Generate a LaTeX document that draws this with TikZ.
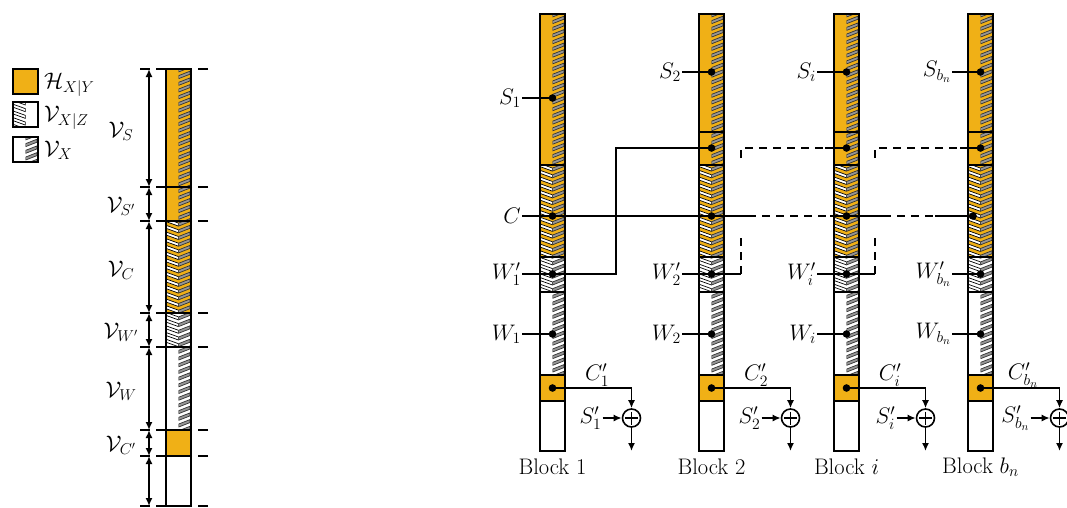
\RequirePackage{fix-cm}
\documentclass[tikz,border=0pt]{standalone}
\usetikzlibrary{arrows.meta}
\definecolor{orng}{RGB}{240,176,22}
\definecolor{stripegray}{RGB}{150,150,150}
\definecolor{stripeedge}{RGB}{50,50,50}
\tikzset{
  lbl/.style={font=\fontsize{22.5}{27}\selectfont, inner sep=1pt},
  conn/.style={line width=1.6pt},
  dashconn/.style={line width=1.6pt, dash pattern=on 8pt off 6pt},
  arr/.style={line width=1.6pt, -{Latex[length=8pt,width=7pt]}},
  dimarr/.style={line width=1.6pt, {Latex[length=8pt,width=7pt]}-{Latex[length=8pt,width=7pt]}},
  bnd/.style={line width=1.6pt, dash pattern=on 10pt off 6pt},
  gstripe/.style={fill=stripegray, draw=stripeedge, line width=0.7pt},
  wstripe/.style={fill=white, draw=black, line width=0.7pt},
  barline/.style={line width=1.7pt},
  oplus/.style={circle, draw, line width=1.6pt, minimum size=18pt, inner sep=0pt},
}
\newcommand\GrayStr[4]{%
  \begin{scope}
    \clip (#1+12.5,#3) rectangle (#1+25,#4);
    \pgfmathtruncatemacro\nst{(#4-#2)/6.7+2}
    \foreach \k in {0,...,\nst}{%
      \pgfmathsetmacro\yy{#2+\k*6.7}%
      \filldraw[gstripe] (#1+12.5,\yy) -- (#1+24,\yy-4.5) -- (#1+24,\yy-1.5) -- (#1+12.5,\yy+3) -- cycle;
    }
  \end{scope}}
\newcommand\WhiteStr[4]{%
  \begin{scope}
    \clip (#1,#3) rectangle (#1+12.5,#4);
    \pgfmathtruncatemacro\nst{(#4-#2)/6.7+2}
    \foreach \k in {0,...,\nst}{%
      \pgfmathsetmacro\yy{#2+\k*6.7}%
      \filldraw[wstripe] (#1,\yy-4.5) -- (#1+12.5,\yy) -- (#1+12.5,\yy+3) -- (#1,\yy-1.5) -- cycle;
    }
  \end{scope}}
\newcommand\RBar[2]{%
  \fill[orng] (#1,14) rectangle (#1+25,257);
  \fill[white] (#1,257) rectangle (#1+25,375);
  \fill[orng] (#1,375) rectangle (#1+25,401);
  \fill[white] (#1,401) rectangle (#1+25,451);
  \GrayStr{#1}{14}{14}{375}
  \WhiteStr{#1}{14}{165}{292}
  \foreach \yb in {165,257,292,375,401} \draw[barline] (#1,\yb) -- (#1+25,\yb);
  \ifnum#2=1 \draw[barline] (#1,132) -- (#1+25,132);\fi
  \draw[barline] (#1,14) rectangle (#1+25,451);
}
\begin{document}
\begin{tikzpicture}[x=1pt,y=-1pt]
\useasboundingbox (0,0) rectangle (1067,507);

% ---------- legend ----------
\fill[orng] (13,69) rectangle (38,94);
\draw[barline] (13,69) rectangle (38,94);
\WhiteStr{13}{102}{102}{127}
\draw[barline] (13,102) rectangle (38,127);
\GrayStr{13}{137}{137}{162}
\draw[barline] (13,137) rectangle (38,162);
\node[lbl, anchor=base west] (legH) at (43,88) {$\mathcal{H}_{X|Y}$};
\node[lbl, anchor=base west] (legVZ) at (43,121) {$\mathcal{V}_{X|Z}$};
\node[lbl, anchor=base west] (legV) at (43,156) {$\mathcal{V}_{X}$};

% ---------- left bar ----------
\foreach \yb in {69,187,221,313,347,430,456,506}{
  \draw[bnd] (140,\yb) -- (166,\yb);
  \draw[bnd] (208,\yb) -- (191,\yb);
}
\fill[orng] (166,69) rectangle (191,313);
\fill[white] (166,313) rectangle (191,430);
\fill[orng] (166,430) rectangle (191,456);
\fill[white] (166,456) rectangle (191,506);
\GrayStr{166}{69}{69}{430}
\WhiteStr{166}{69}{221}{347}
\foreach \yb in {187,221,313,347,430,456} \draw[barline] (166,\yb) -- (191,\yb);
\draw[barline] (166,69) rectangle (191,506);

\foreach \n/\yb in {0/69,1/187,2/221,3/313,4/347,5/430,6/456,7/506}
  \coordinate (d\n) at (149,\yb);
\draw[dimarr] (d0) -- (d1);
\draw[dimarr] (d1) -- (d2);
\draw[dimarr] (d2) -- (d3);
\draw[dimarr] (d3) -- (d4);
\draw[dimarr] (d4) -- (d5);
\draw[dimarr] (d5) -- (d6);
\draw[dimarr] (d6) -- (d7);
\node[lbl] (vS) at (121,131) {$\mathcal{V}_{S}$};
\node[lbl] (vSp) at (121,206) {$\mathcal{V}_{S'}$};
\node[lbl] (vC) at (121,270) {$\mathcal{V}_{C}$};
\node[lbl] (vWp) at (121,332) {$\mathcal{V}_{W'}$};
\node[lbl] (vW) at (121,391) {$\mathcal{V}_{W}$};
\node[lbl] (vCp) at (121,445) {$\mathcal{V}_{C'}$};

% ---------- right blocks ----------
\RBar{540}{0}
\RBar{699}{1}
\RBar{834}{1}
\RBar{968}{1}

% dot coordinates
\coordinate (S1) at (552.5,98);
\coordinate (S2) at (711.5,72);
\coordinate (Si) at (846.5,72);
\coordinate (Sn) at (980.5,72);
\coordinate (Sp2) at (711.5,148);
\coordinate (Spi) at (846.5,148);
\coordinate (Spn) at (980.5,148);
\coordinate (C1) at (552.5,216);
\coordinate (C2) at (711.5,216);
\coordinate (Ci) at (846.5,216);
\coordinate (Cn) at (973,216);
\foreach \b/\m in {1/552.5,2/711.5,i/846.5,n/980.5}{
  \coordinate (Wp\b) at (\m,274);
  \coordinate (W\b) at (\m,334);
  \coordinate (Cp\b) at (\m,388);
}

% labels with lead lines
\node[lbl, anchor=east] (lS1) at (522,98) {$S_1$};
\node[lbl, anchor=east] (lC) at (522,216) {$C$};
\node[lbl, anchor=east] (lWp1) at (522,274) {$W'_1$};
\node[lbl, anchor=east] (lW1) at (522,334) {$W_1$};
\node[lbl, anchor=east] (lS2) at (682,72) {$S_2$};
\node[lbl, anchor=east] (lWp2) at (682,274) {$W'_2$};
\node[lbl, anchor=east] (lW2) at (682,334) {$W_2$};
\node[lbl, anchor=east] (lSi) at (817,72) {$S_i$};
\node[lbl, anchor=east] (lWpi) at (817,274) {$W'_i$};
\node[lbl, anchor=east] (lWi) at (817,334) {$W_i$};
\node[lbl, anchor=east] (lSn) at (952,72) {$S_{b_n}$};
\node[lbl, anchor=east] (lWpn) at (952,274) {$W'_{b_n}$};
\node[lbl, anchor=east] (lWn) at (952,334) {$W_{b_n}$};
\draw[conn] (lS1.east) -- (S1);
\draw[conn] (lC.east) -- (C1);
\draw[conn] (lWp1.east) -- (Wp1);
\draw[conn] (lW1.east) -- (W1);
\draw[conn] (lS2.east) -- (S2);
\draw[conn] (lWp2.east) -- (Wp2);
\draw[conn] (lW2.east) -- (W2);
\draw[conn] (lSi.east) -- (Si);
\draw[conn] (lWpi.east) -- (Wpi);
\draw[conn] (lWi.east) -- (Wi);
\draw[conn] (lSn.east) -- (Sn);
\draw[conn] (lWpn.east) -- (Wpn);
\draw[conn] (lWn.east) -- (Wn);

% link W'_1 -> S'_2
\coordinate (k1) at (616,274);
\draw[conn] (Wp1) -- (k1) |- (Sp2);

% C line
\coordinate (ca) at (748,216);
\coordinate (cb) at (830,216);
\coordinate (cc) at (883,216);
\coordinate (cd) at (935,216);
\draw[conn] (C1) -- (ca);
\draw[dashconn] (ca) -- (cb);
\draw[conn] (cb) -- (cc);
\draw[dashconn] (cc) -- (cd);
\draw[conn] (cd) -- (Cn);

% link W'_2 -> S'_i
\coordinate (k2) at (741,274);
\coordinate (k2a) at (741,238);
\coordinate (k2b) at (741,158);
\coordinate (k2t) at (741,148);
\coordinate (k2e) at (825,148);
\draw[conn] (Wp2) -- (k2);
\draw[dashconn] (k2) -- (k2a);
\draw[dashconn] (k2b) -- (k2t) -- (k2e);
\draw[conn] (k2e) -- (Spi);

% link W'_i -> S'_bn
\coordinate (k3) at (875,274);
\coordinate (k3a) at (875,238);
\coordinate (k3b) at (875,158);
\coordinate (k3t) at (875,148);
\coordinate (k3e) at (960,148);
\draw[conn] (Wpi) -- (k3);
\draw[dashconn] (k3) -- (k3a);
\draw[dashconn] (k3b) -- (k3t) -- (k3e);
\draw[conn] (k3e) -- (Spn);

% dots
\foreach \p in {S1,S2,Si,Sn,Sp2,Spi,Spn,C1,C2,Ci,Cn,Wp1,Wp2,Wpi,Wpn,W1,W2,Wi,Wn,Cp1,Cp2,Cpi,Cpn}
  \fill (\p) circle (3.8);

% XOR parts
\foreach \b/\m/\cpx/\cpt/\spt/\blk in {1/552.5/597/{$C'_1$}/{$S'_1$}/{Block 1},
                               2/711.5/756/{$C'_2$}/{$S'_2$}/{Block 2},
                               i/846.5/890/{$C'_i$}/{$S'_i$}/{Block $i$},
                               n/980.5/1023/{$C'_{b_n}$}/{$S'_{b_n}$}/{Block $b_n$}}{
  \node[oplus] (P\b) at (\m+79,418) {};
  \draw[line width=1.6pt] ([yshift=6.5pt]P\b.center) -- ([yshift=-6.5pt]P\b.center)
                          ([xshift=-6.5pt]P\b.center) -- ([xshift=6.5pt]P\b.center);
  \draw[arr] (Cp\b) -| (P\b.north);
  \node[lbl] (lCp\b) at (\cpx,375) {\cpt};
  \node[lbl, anchor=east] (lSp\b) at (\m+50,418) {\spt};
  \draw[arr] (lSp\b.east) -- (P\b.west);
  \coordinate (O\b) at (\m+79,451);
  \draw[arr] (P\b.south) -- (O\b);
  \node[lbl] (blk\b) at (\m,467) {\blk};
}
\end{tikzpicture}
\end{document}
